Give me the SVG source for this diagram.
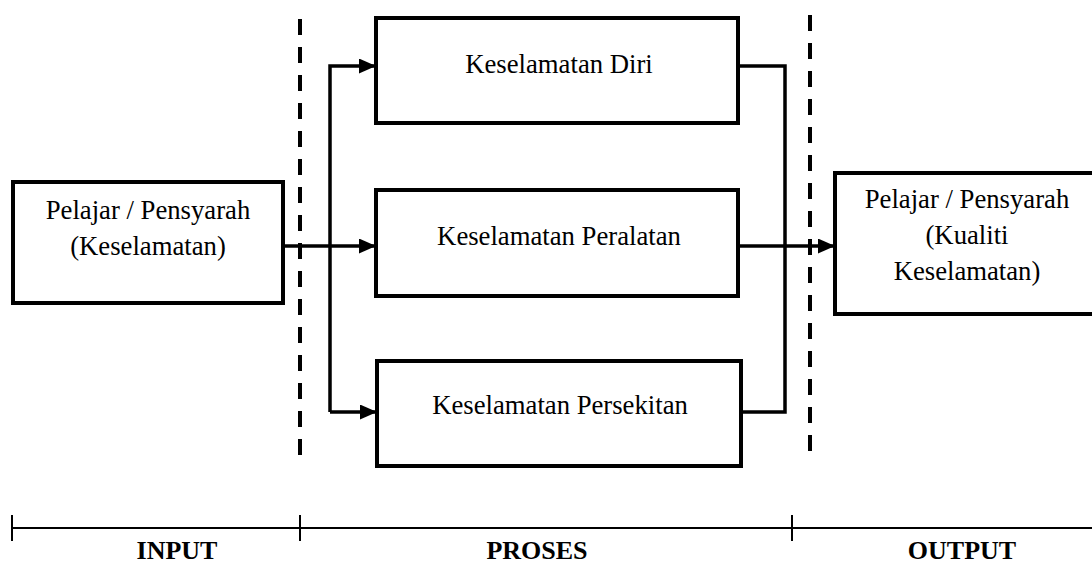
<svg xmlns="http://www.w3.org/2000/svg" width="1092" height="563" viewBox="0 0 1092 563">
<style>
.box{fill:#fff;stroke:#000;stroke-width:4}
.t{font-family:'Liberation Serif','Times New Roman','DejaVu Serif',serif;font-size:26.7px;fill:#000;text-anchor:middle}
.h{font-family:'Liberation Serif','Times New Roman','DejaVu Serif',serif;font-size:26px;font-weight:bold;fill:#000;text-anchor:middle}
.c{fill:none;stroke:#000;stroke-width:3.5}
.d{fill:none;stroke:#000;stroke-width:4;stroke-dasharray:16 12}
.tl{fill:none;stroke:#000;stroke-width:2}
</style>
<defs>
<marker id="ah" markerWidth="17" markerHeight="15" refX="17" refY="7.5" orient="auto" markerUnits="userSpaceOnUse">
<path d="M0,0 L17,7.5 L0,15 Z" fill="#000"/>
</marker>
</defs>
<g id="dividers">
<line class="d" x1="300" y1="19" x2="300" y2="455"/>
<line class="d" x1="810" y1="15" x2="810" y2="451"/>
</g>
<g id="connectors">
<path class="c" d="M283,246 H376" marker-end="url(#ah)"/>
<path class="c" d="M330,412 V66 H376" marker-end="url(#ah)"/>
<path class="c" d="M330,412 H377" marker-end="url(#ah)"/>
<path class="c" d="M738,66 H785 V412 H741"/>
<path class="c" d="M738,246 H835" marker-end="url(#ah)"/>
</g>
<g id="input">
<rect class="box" x="13" y="182" width="270" height="121"/>
<text class="t" x="148" y="219">Pelajar / Pensyarah</text>
<text class="t" x="148" y="255">(Keselamatan)</text>
</g>
<g id="diri">
<rect class="box" x="376" y="18" width="362" height="105"/>
<text class="t" x="559" y="73">Keselamatan Diri</text>
</g>
<g id="peralatan">
<rect class="box" x="376" y="190" width="362" height="106"/>
<text class="t" x="559" y="245">Keselamatan Peralatan</text>
</g>
<g id="persekitan">
<rect class="box" x="377" y="361" width="364" height="105"/>
<text class="t" x="560" y="414">Keselamatan Persekitan</text>
</g>
<g id="output">
<rect class="box" x="835" y="173" width="264" height="141"/>
<text class="t" x="967" y="208">Pelajar / Pensyarah</text>
<text class="t" x="967" y="244">(Kualiti</text>
<text class="t" x="967" y="280">Keselamatan)</text>
</g>
<g id="timeline">
<line class="tl" x1="12" y1="528" x2="1092" y2="528"/>
<line class="tl" x1="12" y1="515" x2="12" y2="541"/>
<line class="tl" x1="300" y1="515" x2="300" y2="541"/>
<line class="tl" x1="792" y1="515" x2="792" y2="541"/>
<text class="h" x="177" y="559">INPUT</text>
<text class="h" x="537" y="559">PROSES</text>
<text class="h" x="962" y="559">OUTPUT</text>
</g>
</svg>
